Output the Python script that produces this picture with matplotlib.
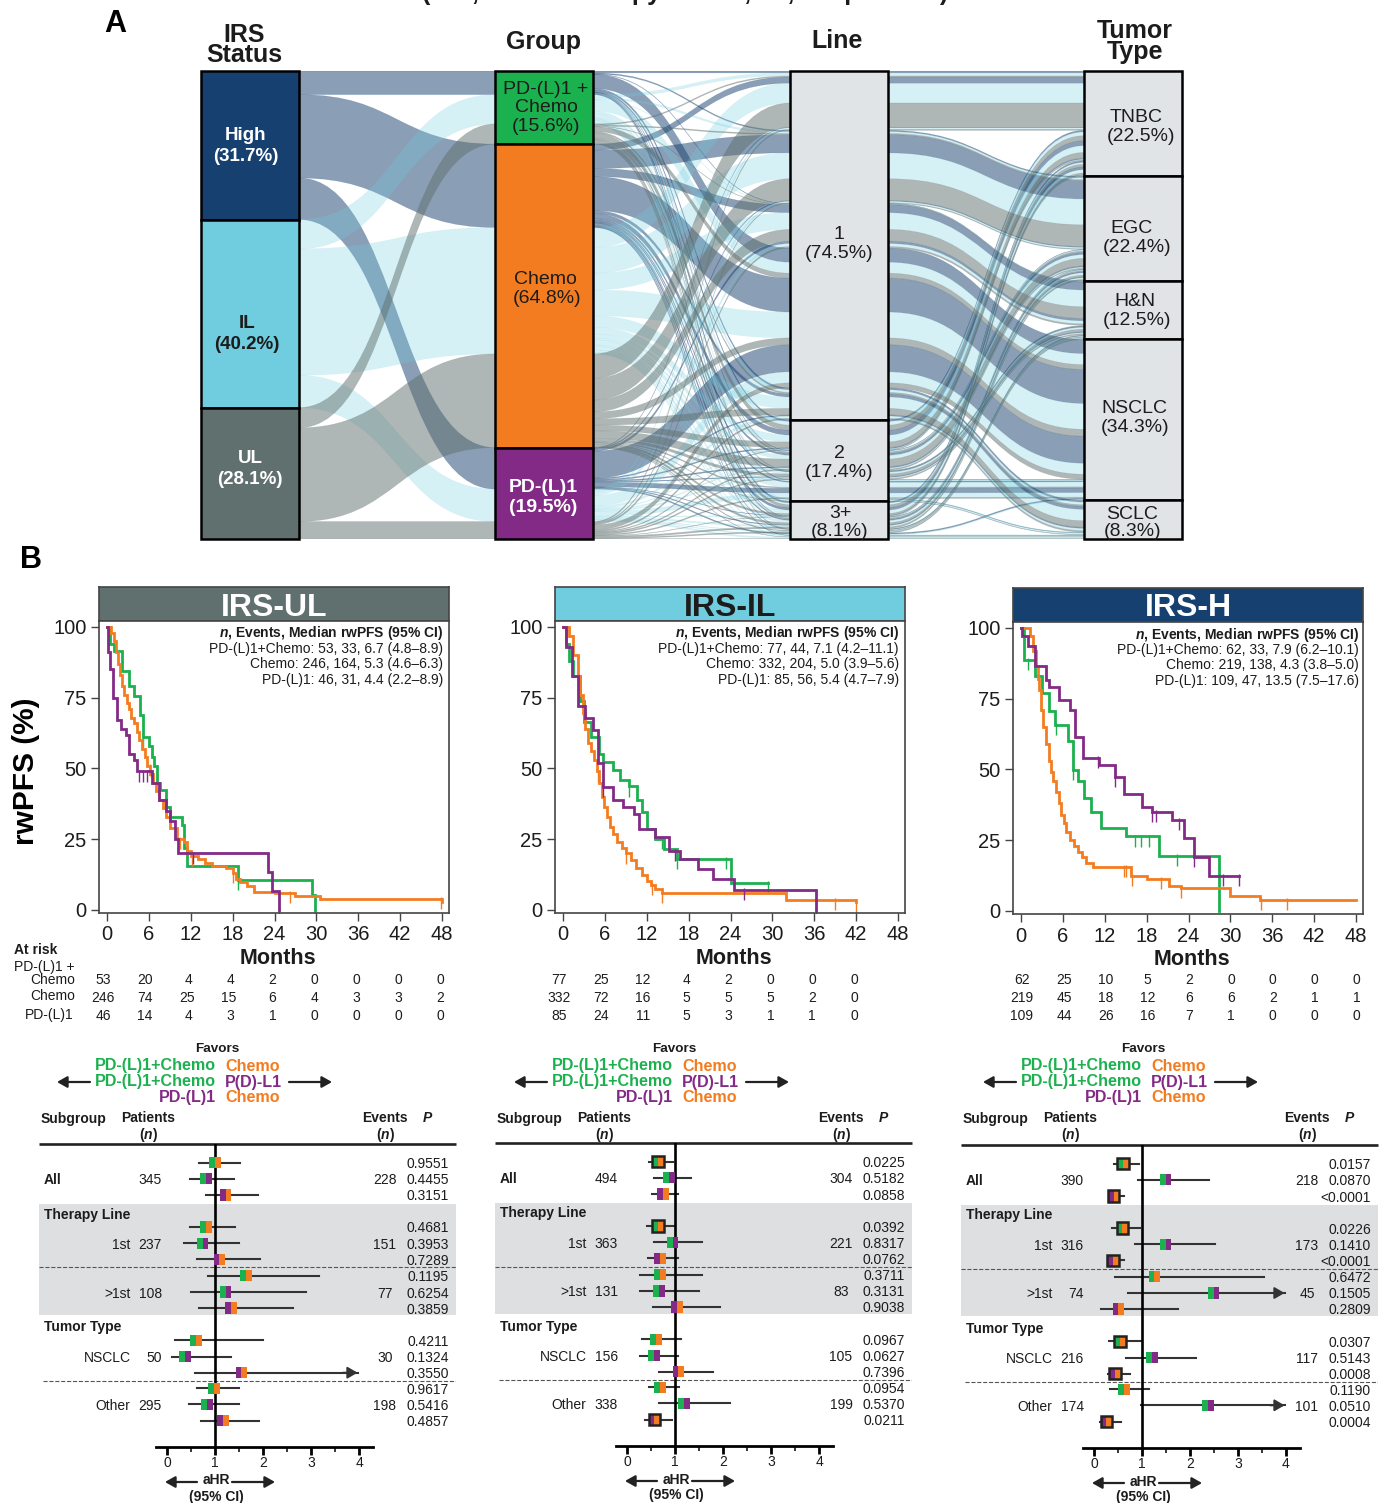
#!/usr/bin/env python3

"""
Alluvial overview of IRS status, treatment group, line and tumor type, with
rwPFS curves and aHR forest plots for the three IRS groups.
"""

import numpy as np
import matplotlib

matplotlib.use("Agg")
import matplotlib.pyplot as plt
from matplotlib.colors import to_rgba
from matplotlib.patches import PathPatch, Rectangle
from matplotlib.path import Path


W, H = 1381, 1503

plt.rcParams["font.family"] = ["Liberation Sans", "DejaVu Sans"]
plt.rcParams["mathtext.fontset"] = "custom"
plt.rcParams["mathtext.it"] = "Liberation Sans:bold:italic"
plt.rcParams["mathtext.rm"] = "Liberation Sans:bold"

NAVY = "#16406F"
CYAN = "#6FCDDF"
SLATE = "#5F706E"
GREEN = "#1CB14F"
ORANGE = "#F47C20"
PURPLE = "#832A86"
NODE_GREY = "#E1E4E7"
INK = "#1C1C1C"

# patients per IRS status / treatment: rows are line 1, 2, 3+,
# columns are TNBC, EGC, H&N, NSCLC, SCLC
HIGH_PCH = [[5, 3, 1, 37, 5], [4, 1, 0, 1, 0], [4, 1, 0, 0, 0]]
HIGH_CHEMO = [[16, 48, 21, 89, 8], [13, 5, 3, 3, 1], [7, 3, 1, 0, 1]]
HIGH_PD = [[1, 2, 6, 71, 3], [3, 3, 2, 12, 0], [1, 2, 0, 3, 0]]
IL_PCH = [[8, 5, 1, 29, 7], [10, 3, 1, 3, 1], [5, 2, 1, 0, 1]]
IL_CHEMO = [[52, 68, 44, 68, 30], [18, 10, 5, 13, 4], [9, 6, 2, 0, 3]]
IL_PD = [[4, 4, 8, 29, 6], [2, 3, 3, 12, 0], [2, 4, 2, 2, 4]]
UL_PCH = [[3, 3, 1, 13, 4], [13, 4, 1, 0, 0], [7, 3, 1, 0, 0]]
UL_CHEMO = [[64, 57, 31, 18, 17], [15, 20, 7, 3, 1], [5, 5, 2, 0, 1]]
UL_PD = [[3, 2, 4, 13, 4], [2, 3, 3, 3, 0], [1, 4, 3, 0, 1]]

IRS_COUNTS = [
    [HIGH_PCH, HIGH_CHEMO, HIGH_PD],
    [IL_PCH, IL_CHEMO, IL_PD],
    [UL_PCH, UL_CHEMO, UL_PD],
]
FLOW_COLORS = [(NAVY, 0.5), (CYAN, 0.28), (SLATE, 0.5)]

# Kaplan-Meier curves: month / survival pairs
UL_PCH_T = [0, 0.5, 1.0, 1.4, 2.2, 3.1, 3.8, 4.7, 5.2, 6.0, 6.4, 6.7, 7.2, 7.6, 8.4, 9.0, 10.7, 11.1, 11.5, 18.7, 29.3, 29.8]
UL_PCH_S = [100, 94, 91.5, 91.5, 84.3, 79, 75.5, 69, 61, 58, 54, 51, 45, 42.5, 36.5, 33, 30, 22, 15.7, 10.7, 5.3, 0]
UL_CHEMO_T = [0, 0.6, 1.0, 1.3, 1.6, 1.9, 2.2, 2.5, 2.8, 3.1, 3.5, 3.9, 4.3, 4.6, 5.0, 5.4, 5.8, 6.2, 6.6, 7.0, 7.5, 8.0, 8.5, 9.0, 10.0, 11.0, 11.5, 12.0, 13.0, 14.0, 15.0, 17.0, 18.0, 18.5, 19.0, 20.0, 21.0, 24.0, 27.0, 30.5, 48.0]
UL_CHEMO_S = [100, 98, 95, 91, 87, 83, 79, 76, 73, 71, 68, 66, 63, 60, 57, 54, 51, 48, 45, 42, 39, 36, 33, 29, 25, 24, 21, 19, 18, 16.5, 15.5, 15, 13, 11, 10, 8.5, 6.5, 6, 5, 3.8, 2.8]
UL_PD_T = [0, 0.2, 0.5, 0.9, 1.5, 2.0, 2.7, 3.2, 3.8, 4.3, 6.5, 7.5, 8.4, 9.0, 9.8, 10.2, 23.1, 23.6, 24.7]
UL_PD_S = [100, 91, 85, 75, 67, 64, 62, 55, 53, 49, 45, 39, 35, 31.5, 25, 20, 13.5, 6.7, 0]

IL_PCH_T = [0, 0.5, 0.9, 1.5, 2.5, 3.0, 4.0, 5.2, 5.8, 7.1, 8.2, 9.4, 10.6, 11.3, 12.1, 13.2, 14.4, 16.3, 24.0, 29.4]
IL_PCH_S = [100, 94, 88, 82.5, 74, 66.5, 61, 55, 52.4, 49.4, 46, 43.7, 38.8, 34.6, 28.7, 25, 21.6, 18, 9.5, 9.5]
IL_CHEMO_T = [0, 0.9, 1.5, 2.1, 2.5, 2.8, 3.2, 3.6, 4.0, 4.4, 4.8, 5.2, 5.6, 5.9, 6.3, 6.7, 7.2, 7.8, 8.4, 9.0, 9.7, 10.5, 11.3, 12.1, 12.6, 13.2, 14.2, 31.9, 42.0]
IL_CHEMO_S = [100, 96.7, 90, 82.5, 76, 69.5, 64, 59, 56, 53, 49, 44.7, 40, 36.4, 33, 29.3, 27, 24, 22, 20, 17.5, 15, 12.5, 10.4, 9, 7.4, 6, 3.5, 2.7]
IL_PD_T = [0, 0.5, 1.3, 2.2, 3.2, 4.3, 5.0, 5.8, 7.1, 8.6, 10.2, 10.9, 13.2, 15.2, 16.7, 19.4, 21.5, 24.5, 36.3]
IL_PD_S = [100, 93, 82.5, 72, 68, 63.6, 52, 43.5, 38.8, 36.4, 34, 28.7, 25.8, 21, 18, 14.5, 11, 7.1, 0]

HIGH_PCH_T = [0, 0.5, 2.0, 3.0, 4.0, 4.9, 6.7, 7.5, 8.2, 9.0, 10.1, 11.5, 15.1, 19.7, 28.3]
HIGH_PCH_S = [100, 88.8, 83, 77, 70.5, 65.7, 60, 49.8, 46, 40, 35, 29.3, 26.4, 19.6, 0]
HIGH_CHEMO_T = [0, 1.3, 1.7, 2.1, 2.4, 2.6, 2.9, 3.2, 3.6, 4.0, 4.3, 4.6, 5.0, 5.4, 5.8, 6.1, 6.5, 7.0, 7.6, 8.2, 8.8, 9.3, 10.3, 15.7, 18.1, 21.2, 22.9, 30.0, 34.2, 48.0]
HIGH_CHEMO_S = [100, 97, 92, 86.4, 82, 78, 71, 65, 59, 53, 49, 46, 42, 38, 34, 31, 28, 25, 23, 20.8, 19, 17, 15.5, 12.5, 11.3, 9, 8.2, 5.4, 4, 4]
HIGH_PD_T = [0, 0.15, 1.0, 2.0, 3.6, 4.0, 5.5, 7.0, 7.8, 8.9, 11.2, 13.5, 14.7, 17.4, 18.7, 21.6, 23.3, 24.8, 26.9, 31.3]
HIGH_PD_S = [100, 97, 93.5, 86.6, 81.7, 79, 74.6, 71, 61.6, 54, 51.5, 47.4, 41.5, 36.8, 35, 32.2, 25.9, 19, 12.5, 12.5]

UL_CENSOR = [[5.2, 18.7, 29.8], [6.1, 10.5, 12.2, 18.0, 26.2, 47.9], [4.6, 5.2, 5.7, 12.3, 24.7]]
IL_CENSOR = [[9.4, 14.2, 16.3, 23.4, 29.4], [5.0, 9.0, 12.8, 14.2, 39.0, 42.0], [5.8, 16.0, 25.9, 36.3]]
HIGH_CENSOR = [[1.0, 5.0, 7.5, 16.4, 17.2, 18.3, 22.4], [14.7, 15.1, 15.9, 20.1, 22.9, 34.4, 38.1], [11.1, 13.5, 18.7, 19.3, 22.6, 24.8, 29.0, 31.3]]

MONTH_TICKS = [0, 6, 12, 18, 24, 30, 36, 42, 48]
RWPFS_TICKS = [0, 25, 50, 75, 100]

UL_RISK = [[53, 20, 4, 4, 2, 0, 0, 0, 0], [246, 74, 25, 15, 6, 4, 3, 3, 2], [46, 14, 4, 3, 1, 0, 0, 0, 0]]
IL_RISK = [[77, 25, 12, 4, 2, 0, 0, 0], [332, 72, 16, 5, 5, 5, 2, 0], [85, 24, 11, 5, 3, 1, 1, 0]]
HIGH_RISK = [[62, 25, 10, 5, 2, 0, 0, 0, 0], [219, 45, 18, 12, 6, 6, 2, 1, 1], [109, 44, 26, 16, 7, 1, 0, 0, 0]]

UL_LEGEND = ["PD-(L)1+Chemo: 53, 33, 6.7 (4.8–8.9)", "Chemo: 246, 164, 5.3 (4.6–6.3)", "PD-(L)1: 46, 31, 4.4 (2.2–8.9)"]
IL_LEGEND = ["PD-(L)1+Chemo: 77, 44, 7.1 (4.2–11.1)", "Chemo: 332, 204, 5.0 (3.9–5.6)", "PD-(L)1: 85, 56, 5.4 (4.7–7.9)"]
HIGH_LEGEND = ["PD-(L)1+Chemo: 62, 33, 7.9 (6.2–10.1)", "Chemo: 219, 138, 4.3 (3.8–5.0)", "PD-(L)1: 109, 47, 13.5 (7.5–17.6)"]

# forest plots: hazard ratio, CI limits and P for the 15 rows
UL_HR = [1.00, 0.81, 1.22, 0.81, 0.74, 1.09, 1.64, 1.22, 1.33, 0.61, 0.38, 1.55, 0.98, 0.83, 1.17]
UL_LO = [0.66, 0.47, 0.81, 0.47, 0.36, 0.62, 0.86, 0.51, 0.67, 0.17, 0.10, 0.58, 0.63, 0.45, 0.71]
UL_HI = [1.52, 1.39, 1.90, 1.41, 1.49, 1.93, 3.16, 2.90, 2.62, 1.99, 1.34, 3.97, 1.50, 1.49, 1.91]
UL_P = ["0.9551", "0.4455", "0.3151", "0.4681", "0.3953", "0.7289", "0.1195", "0.6254", "0.3859", "0.4211", "0.1324", "0.3550", "0.9617", "0.5416", "0.4857"]
UL_ARROWS = [11]

IL_HR = [0.64, 0.87, 0.75, 0.64, 0.95, 0.69, 0.69, 0.67, 1.04, 0.60, 0.56, 1.07, 0.69, 1.19, 0.57]
IL_LO = [0.45, 0.57, 0.53, 0.42, 0.57, 0.43, 0.28, 0.28, 0.54, 0.32, 0.28, 0.66, 0.46, 0.66, 0.37]
IL_HI = [0.95, 1.33, 1.07, 1.00, 1.57, 1.07, 1.57, 1.50, 1.94, 1.12, 1.06, 1.79, 1.08, 2.15, 0.93]
IL_P = ["0.0225", "0.5182", "0.0858", "0.0392", "0.8317", "0.0762", "0.3711", "0.3131", "0.9038", "0.0967", "0.0627", "0.7396", "0.0954", "0.5370", "0.0211"]
IL_ARROWS = []

HIGH_HR = [0.61, 1.49, 0.41, 0.59, 1.49, 0.39, 1.26, 2.49, 0.51, 0.54, 1.21, 0.44, 0.63, 2.38, 0.26]
HIGH_LO = [0.41, 0.92, 0.33, 0.37, 0.86, 0.30, 0.43, 0.70, 0.14, 0.31, 0.67, 0.29, 0.34, 0.97, 0.12]
HIGH_HI = [0.93, 2.40, 0.62, 0.95, 2.53, 0.62, 3.54, 3.97, 1.75, 0.97, 2.12, 0.74, 1.14, 3.97, 0.57]
HIGH_P = ["0.0157", "0.0870", "<0.0001", "0.0226", "0.1410", "<0.0001", "0.6472", "0.1505", "0.2809", "0.0307", "0.5143", "0.0008", "0.1190", "0.0510", "0.0004"]
HIGH_ARROWS = [7, 13]

UL_GROUPS = [["All", "345", "228"], ["1st", "237", "151"], [">1st", "108", "77"], ["NSCLC", "50", "30"], ["Other", "295", "198"]]
IL_GROUPS = [["All", "494", "304"], ["1st", "363", "221"], [">1st", "131", "83"], ["NSCLC", "156", "105"], ["Other", "338", "199"]]
HIGH_GROUPS = [["All", "390", "218"], ["1st", "316", "173"], [">1st", "74", "45"], ["NSCLC", "216", "117"], ["Other", "174", "101"]]

ROW_Y = [1162.7, 1178.7, 1195, 1227, 1243.3, 1259.3, 1275.7, 1292, 1308, 1340.3, 1356.7, 1372.7, 1388.3, 1404.3, 1420.7]
PX_PER_HR = 48
SIG_P = 0.05


fig = plt.figure(figsize=(W / 100, H / 100), dpi=100)


def px_axes(left, top, right, bottom, **kwargs):
    return fig.add_axes(
        [left / W, 1 - bottom / H, (right - left) / W, (bottom - top) / H], **kwargs
    )


over = px_axes(0, 0, W, H)
over.set_xlim(0, W)
over.set_ylim(H, 0)
over.axis("off")
over.set_zorder(20)
over.patch.set_alpha(0)


def tx(x, y, s, size=10, weight="normal", color=INK, ha="center", va="center", **kwargs):
    # va="center" sits a little high against the glyphs, nudge it down
    y = y + 1.5 if va == "center" else y
    over.text(x, y, s, fontsize=size, fontweight=weight, color=color, ha=ha, va=va, **kwargs)


def arrow(x0, x1, y):
    over.annotate(
        "",
        xy=(x1, y),
        xytext=(x0, y),
        arrowprops=dict(arrowstyle="-|>,head_width=0.34,head_length=0.6", color="#222222", lw=1.6, shrinkA=0, shrinkB=0),
    )


def flow_path(x0, x1, top0, bot0, top1, bot1):
    xm = (x0 + x1) / 2
    verts = [
        (x0, top0), (xm, top0), (xm, top1), (x1, top1),
        (x1, bot1), (xm, bot1), (xm, bot0), (x0, bot0), (x0, top0),
    ]
    codes = [
        Path.MOVETO, Path.CURVE4, Path.CURVE4, Path.CURVE4,
        Path.LINETO, Path.CURVE4, Path.CURVE4, Path.CURVE4, Path.CLOSEPOLY,
    ]
    return Path(verts, codes)


def stack_tops(rows, key):
    """Top of every row when all rows are stacked in the order of key."""
    tops = {}
    running = 0
    for i in sorted(range(len(rows)), key=lambda r: key(rows[r])):
        tops[i] = running
        running += rows[i][4]
    return tops


def draw_alluvial():
    rows = []
    for irs, per_group in enumerate(IRS_COUNTS):
        for group, per_line in enumerate(per_group):
            for line, per_tumor in enumerate(per_line):
                for tumor, n in enumerate(per_tumor):
                    if n > 0:
                        rows.append((irs, group, line, tumor, n))

    total = sum(r[4] for r in rows)
    node_w = 98 / 295

    ax = px_axes(201, 71, 1182, 539)
    ax.set_xlim(0, 3 + node_w)
    ax.set_ylim(total, 0)
    ax.axis("off")

    # lode order on each axis
    orders = [
        lambda r: (r[0], r[1], r[2], r[3]),
        lambda r: (r[1], r[0], r[2], r[3]),
        lambda r: (r[2], r[3], r[1], r[0]),
        lambda r: (r[3], r[2], r[1], r[0]),
    ]
    tops = [stack_tops(rows, o) for o in orders]

    # rows which run side by side through a stage are one ribbon
    stage_keys = [
        lambda r: (r[0], r[1]),
        lambda r: (r[0], r[1], r[2], r[3]),
        lambda r: (r[0], r[1], r[2], r[3]),
    ]
    for stage, key in enumerate(stage_keys):
        ribbons = {}
        for i, r in enumerate(rows):
            ribbons.setdefault(key(r), []).append(i)
        for members in ribbons.values():
            color, alpha = FLOW_COLORS[rows[members[0]][0]]
            top0 = min(tops[stage][i] for i in members)
            top1 = min(tops[stage + 1][i] for i in members)
            n = sum(rows[i][4] for i in members)
            path = flow_path(stage + node_w, stage + 1, top0, top0 + n, top1, top1 + n)
            ax.add_patch(
                PathPatch(
                    path,
                    facecolor=to_rgba(color, alpha),
                    edgecolor=to_rgba(color, alpha * 0.4),
                    lw=0.4,
                )
            )

    # node rectangles
    node_colors = [
        [NAVY, CYAN, SLATE],
        [GREEN, ORANGE, PURPLE],
        [NODE_GREY] * 3,
        [NODE_GREY] * 5,
    ]
    for col, colors in enumerate(node_colors):
        sizes = np.zeros(len(colors))
        for r in rows:
            sizes[r[col]] += r[4]
        start = 0
        for c, size in zip(colors, sizes):
            ax.add_patch(
                Rectangle((col, start), node_w, size, facecolor=c, edgecolor="black", lw=1.8, zorder=5, clip_on=False)
            )
            start += size


def draw_sankey_text():
    tx(685, 0, "(IRS, Chemotherapy Status, 1L, Outpatients)", size=18, weight="bold", va="baseline")
    tx(115, 22, "A", size=22, weight="bold", color="black")
    tx(31, 559, "B", size=22, weight="bold", color="black")

    for x, y, s in [(244, 33, "IRS"), (244, 54, "Status"), (544, 40, "Group"), (837, 40, "Line"),
                    (1135, 29, "Tumor"), (1135, 51, "Type")]:
        tx(x, y, s, size=18, weight="bold")

    bold_labels = [
        (246, 134, "High", "white"), (246, 155, "(31.7%)", "white"),
        (247, 322, "IL", INK), (247, 343, "(40.2%)", INK),
        (250, 457, "UL", "white"), (250, 478, "(28.1%)", "white"),
    ]
    for x, y, s, c in bold_labels:
        tx(x, y, s, size=13.5, weight="bold", color=c)

    tx(543, 486, "PD-(L)1", size=14, weight="bold", color="white")
    tx(543, 506, "(19.5%)", size=14, weight="bold", color="white")

    plain_labels = [
        (546, 88, "PD-(L)1 +"), (546, 106, "Chemo"), (546, 125, "(15.6%)"),
        (545, 278, "Chemo"), (547, 297, "(64.8%)"),
        (839, 233, "1"), (839, 252, "(74.5%)"), (839, 452, "2"), (839, 471, "(17.4%)"),
        (840, 512, "3+"), (840, 530, "(8.1%)"),
        (1136, 116, "TNBC"), (1141, 135, "(22.5%)"), (1132, 227, "EGC"), (1137, 246, "(22.4%)"),
        (1135, 300, "H&N"), (1137, 319, "(12.5%)"), (1134, 407, "NSCLC"), (1135, 426, "(34.3%)"),
        (1132, 513, "SCLC"), (1133, 530, "(8.3%)"),
    ]
    for x, y, s in plain_labels:
        tx(x, y, s, size=14)


def curve_at(t, s, when):
    return s[np.searchsorted(t, when, side="right") - 1]


def draw_km(left, top, title, strip_color, title_color, curves, censor, legend, risk, risk_shift, legend_dx=0):
    strip = px_axes(left, top, left + 350, top + 34)
    strip.set_facecolor(strip_color)
    strip.set_xticks([])
    strip.set_yticks([])
    for sp in strip.spines.values():
        sp.set_color("#444444")
        sp.set_linewidth(1.2)
    tx(left + 175, top + 19, title, size=23, weight="bold", color=title_color)

    ax = px_axes(left, top + 34, left + 350, top + 326)
    px_month = 6.98
    ax.set_xlim(-8 / px_month, 342 / px_month)
    ax.set_ylim(-1.06, 102.1)
    for (t, s), c, marks in zip(curves, [GREEN, ORANGE, PURPLE], censor):
        ax.step(t, s, where="post", color=c, lw=2.0, solid_joinstyle="miter")
        t_arr, s_arr = np.array(t), np.array(s)
        ax.plot(marks, [curve_at(t_arr, s_arr, m) - 1.5 for m in marks], "|", color=c, ms=9, mew=1.0)

    ax.set_xticks(MONTH_TICKS)
    ax.set_yticks(RWPFS_TICKS)
    ax.tick_params(labelsize=14.5, length=6, width=1, color="#444444", pad=3, labelcolor=INK)
    for sp in ax.spines.values():
        sp.set_color("#444444")
        sp.set_linewidth(1.2)

    right = left + 344 + legend_dx
    y0 = top + 45
    tx(right, y0, r"$\mathit{n}$, Events, Median rwPFS (95% CI)", size=10, weight="bold", ha="right")
    for k, line in enumerate(legend):
        tx(right, y0 + 15.4 * (k + 1), line, size=10, ha="right")

    tx(left + 179, top + 370, "Months", size=15.5, weight="bold")

    x_zero = left + 8
    for row, y in zip(risk, [979, 996, 1015]):
        for month, v in zip(MONTH_TICKS, row):
            shift = risk_shift if v >= 10 else risk_shift / 2
            tx(x_zero + month * px_month + shift, y, str(v), size=10)


def draw_forest(x_one, off, favor_off, y_off, hr, lo, hi, p_vals, arrows, groups):
    left, right = 39 + off, 456 + off
    rule_y, axis_y = 1144 + y_off, 1447 + y_off
    ax = px_axes(left, rule_y, right, axis_y)
    ax.set_xlim((left - x_one) / PX_PER_HR + 1, (right - x_one) / PX_PER_HR + 1)
    ax.set_ylim(axis_y, rule_y)
    ax.patch.set_alpha(0)
    for side in ["top", "left", "right"]:
        ax.spines[side].set_visible(False)
    ax.spines["bottom"].set_bounds(-0.23, 4.29)
    ax.spines["bottom"].set_linewidth(2.0)
    ax.set_yticks([])
    ax.set_xticks([0, 1, 2, 3, 4])
    ax.set_xticks([0.5, 1.5, 2.5, 3.5], minor=True)
    ax.tick_params(axis="x", which="major", length=6, width=2.0, labelsize=10, pad=0.5, labelcolor=INK)
    ax.tick_params(axis="x", which="minor", length=3.5, width=1.1)

    rows = np.array(ROW_Y) + y_off
    ax.axhspan(1204 + y_off, 1315 + y_off, color="#DDDFE1", lw=0, zorder=0)
    ax.axhline(1267.5 + y_off, ls="--", lw=0.8, color="#555555", zorder=1)
    ax.axhline(1381 + y_off, xmin=0.01, ls="--", lw=0.8, color="#555555", zorder=1)
    ax.axhline(rule_y, lw=1.9, color="#222222", clip_on=False, zorder=3, solid_capstyle="butt")

    half_w = 5.8 / PX_PER_HR
    half_h = 5.7
    pairs = [(GREEN, ORANGE), (GREEN, PURPLE), (PURPLE, ORANGE)]
    for i, y in enumerate(rows):
        ax.plot([lo[i], hi[i]], [y, y], color="#333333", lw=1.5, zorder=2)
        if i in arrows:
            ax.annotate(
                "",
                xy=(hi[i], y),
                xytext=(hi[i] - 0.3, y),
                arrowprops=dict(arrowstyle="-|>,head_width=0.35,head_length=0.6", color="#333333", lw=1.4, shrinkA=0, shrinkB=0),
                zorder=2,
            )
        c_left, c_right = pairs[i % 3]
        ax.add_patch(Rectangle((hr[i] - half_w, y - half_h), half_w, 2 * half_h, facecolor=c_left, lw=0, zorder=5))
        ax.add_patch(Rectangle((hr[i], y - half_h), half_w, 2 * half_h, facecolor=c_right, lw=0, zorder=5))
        p_num = float(p_vals[i].lstrip("<"))
        if p_num < SIG_P:
            ax.add_patch(
                Rectangle(
                    (hr[i] - half_w, y - half_h), 2 * half_w, 2 * half_h,
                    facecolor="none", edgecolor="#222222", lw=1.8, zorder=6, joinstyle="miter",
                )
            )
        tx(449 + off, y, p_vals[i], size=10, ha="right")
    ax.axvline(1, color="black", lw=1.9, zorder=4)

    # header block
    fav = 216 + favor_off
    tx(fav + 1, 1047, "Favors", size=9.7, weight="bold")
    tx(fav, 1064, "PD-(L)1+Chemo", size=11.6, weight="bold", color=GREEN, ha="right")
    tx(fav + 9, 1065, "Chemo", size=11.6, weight="bold", color=ORANGE, ha="left")
    tx(fav, 1080, "PD-(L)1+Chemo", size=11.6, weight="bold", color=GREEN, ha="right")
    tx(fav + 9, 1081, "P(D)-L1", size=11.6, weight="bold", color=PURPLE, ha="left")
    tx(fav, 1096, "PD-(L)1", size=11.6, weight="bold", color=PURPLE, ha="right")
    tx(fav + 9, 1096, "Chemo", size=11.6, weight="bold", color=ORANGE, ha="left")
    arrow(90 + favor_off, 57 + favor_off, 1082)
    arrow(289 + favor_off, 332 + favor_off, 1082)

    tx(41 + off, 1117, "Subgroup", size=10, weight="bold", ha="left")
    tx(121 + off, 1117, "Patients", size=10, weight="bold", ha="left")
    tx(148 + off, 1133, r"($\mathit{n}$)", size=10, weight="bold")
    tx(362 + off, 1117, "Events", size=10, weight="bold", ha="left")
    tx(385 + off, 1133, r"($\mathit{n}$)", size=10, weight="bold")
    tx(428 + off, 1117, r"$\mathit{P}$", size=10, weight="bold")

    tx(44 + off, 1213 + y_off, "Therapy Line", size=10, weight="bold", ha="left")
    tx(44 + off, 1326 + y_off, "Tumor Type", size=10, weight="bold", ha="left")

    # one label row per subgroup, on the middle row of its three
    for g, (label, patients, events) in enumerate(groups):
        y = rows[1 + 3 * g]
        if label == "All":
            tx(44 + off, y, label, size=10, weight="bold", ha="left")
        else:
            tx(130.5 + off, y, label, size=10, ha="right")
        tx(162 + off, y, patients, size=10, ha="right")
        tx(385 + off, y, events, size=10)

    hr_off = x_one - 215
    tx(216 + hr_off, 1479 + y_off, "aHR", size=10, weight="bold")
    tx(216 + hr_off, 1495 + y_off, "(95% CI)", size=10, weight="bold")
    arrow(197 + hr_off, 165 + hr_off, 1482 + y_off)
    arrow(232 + hr_off, 275 + hr_off, 1482 + y_off)


draw_alluvial()
draw_sankey_text()

tx(26, 770, "rwPFS (%)", size=21.5, weight="bold", rotation=90, color="black")

draw_km(
    99, 587, "IRS-UL", SLATE, "white",
    [(UL_PCH_T, UL_PCH_S), (UL_CHEMO_T, UL_CHEMO_S), (UL_PD_T, UL_PD_S)],
    UL_CENSOR, UL_LEGEND, UL_RISK, -4,
)
draw_km(
    555, 587, "IRS-IL", CYAN, INK,
    [(IL_PCH_T, IL_PCH_S), (IL_CHEMO_T, IL_CHEMO_S), (IL_PD_T, IL_PD_S)],
    IL_CENSOR, IL_LEGEND, IL_RISK, -4,
)
draw_km(
    1013, 588, "IRS-H", NAVY, "white",
    [(HIGH_PCH_T, HIGH_PCH_S), (HIGH_CHEMO_T, HIGH_CHEMO_S), (HIGH_PD_T, HIGH_PD_S)],
    HIGH_CENSOR, HIGH_LEGEND, HIGH_RISK, 1, legend_dx=2,
)

tx(14, 949, "At risk", size=10, weight="bold", ha="left")
tx(75, 965, "PD-(L)1 +", size=10, ha="right")
tx(75, 979, "Chemo", size=10, ha="right")
tx(75, 995, "Chemo", size=10, ha="right")
tx(74, 1013, "PD-(L)1", size=10, ha="right")

draw_forest(215, 0, 0, 0, UL_HR, UL_LO, UL_HI, UL_P, UL_ARROWS, UL_GROUPS)
draw_forest(675, 456, 457, -1, IL_HR, IL_LO, IL_HI, IL_P, IL_ARROWS, IL_GROUPS)
draw_forest(1142, 922, 926, 1, HIGH_HR, HIGH_LO, HIGH_HI, HIGH_P, HIGH_ARROWS, HIGH_GROUPS)

fig.savefig("out.png", dpi=100)
